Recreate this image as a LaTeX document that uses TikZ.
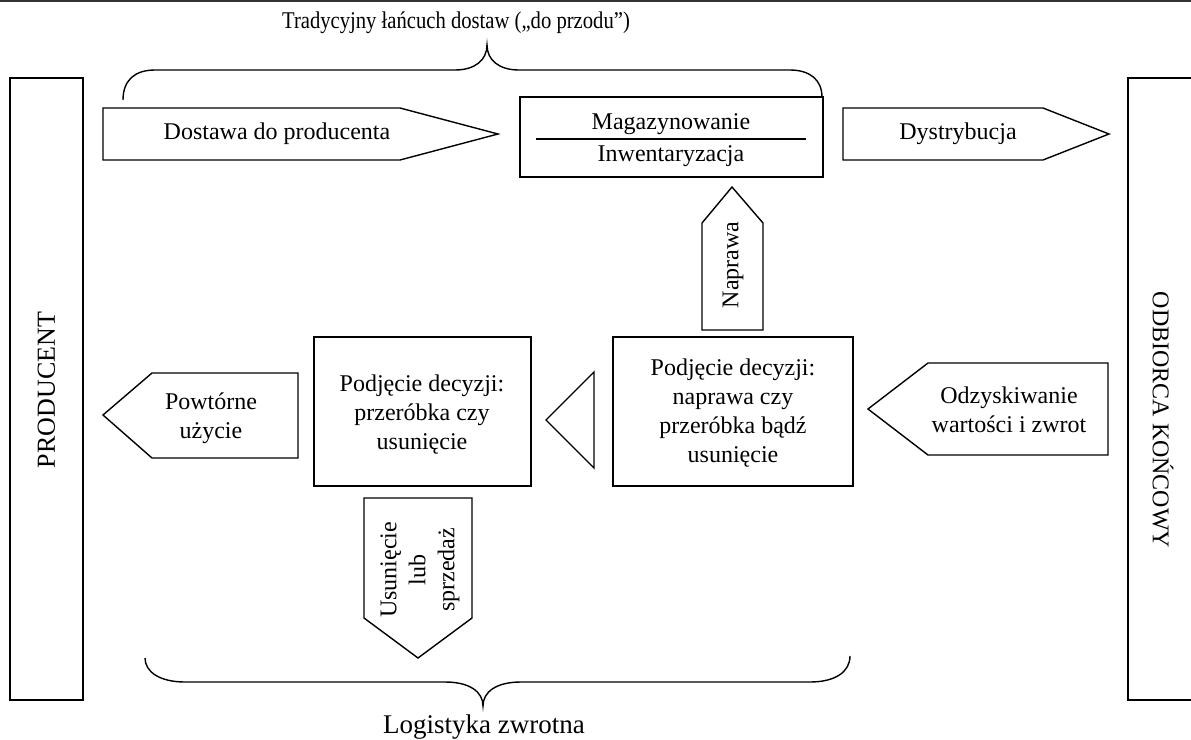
\documentclass[tikz,border=0pt]{standalone}
\usepackage{fontspec}
\setmainfont{Liberation Serif}
\begin{document}
\begin{tikzpicture}[x=0.5pt,y=-0.5pt,line width=0.7pt,
    font=\fontsize{12}{14.5}\selectfont,
    lbl/.style={align=center,inner sep=0pt}]
    \useasboundingbox (0,0) rectangle (1191,740);
    \draw[black!80,line width=1pt] (0,1) -- (1191,1);

    \node[lbl,transform shape,xscale=0.86] (title) at (456,23) {Tradycyjny łańcuch dostaw („do przodu”)};
    \draw (123,100) .. controls (123,80) and (135,70) .. (155,70) -- (455,70)
        .. controls (475,70) and (487,60) .. (487,45)
        .. controls (487,60) and (499,70) .. (519,70) -- (790,70)
        .. controls (810,70) and (822,80) .. (822,97);

    \draw (10,78) rectangle (83,700);
    \node[lbl,rotate=90,font=\fontsize{13}{15}\selectfont] (prod) at (46.5,390) {PRODUCENT};
    \draw (1191,78) -- (1128,78) -- (1128,700) -- (1191,700);
    \node[lbl,rotate=-90] (odb) at (1163,420) {ODBIORCA KOŃCOWY};

    \draw (103,108) -- (400,108) -- (498,134) -- (400,160) -- (103,160) -- cycle;
    \node[lbl] (dost) at (277,134) {Dostawa do producenta};

    \draw (520,97) rectangle (823,177);
    \node[lbl] (mag) at (671,124) {Magazynowanie};
    \node[lbl] (inw) at (671,156) {Inwentaryzacja};
    \draw (536,139) -- (806,139);

    \draw (843,108) -- (1043,108) -- (1109,134) -- (1043,160) -- (843,160) -- cycle;
    \node[lbl] (dyst) at (958,134) {Dystrybucja};

    \draw (702,330) -- (702,223) -- (732,187) -- (763,223) -- (763,330) -- cycle;
    \node[lbl,rotate=90] (napr) at (733,265) {Naprawa};

    \draw (613,337) rectangle (853,486);
    \node[lbl] (dec2) at (733,413) {Podjęcie decyzji:\\naprawa czy\\przeróbka bądź\\usunięcie};

    \draw (1108,363) -- (928,363) -- (868,409) -- (928,455) -- (1108,455) -- cycle;
    \node[lbl] (odz) at (1009,410) {Odzyskiwanie\\wartości i zwrot};

    \draw (594,372) -- (594,468) -- (546,420) -- cycle;

    \draw (314,337) rectangle (531,486);
    \node[lbl] (dec1) at (422,415) {Podjęcie decyzji:\\przeróbka czy\\usunięcie};

    \draw (298,373) -- (152,373) -- (103,415) -- (152,458) -- (298,458) -- cycle;
    \node[lbl] (powt) at (211,418) {Powtórne\\użycie};

    \draw (364,498) -- (472,498) -- (472,618) -- (418,658) -- (364,618) -- cycle;
    \node[lbl,rotate=90] (usun) at (420,570) {Usunięcie\\lub\\sprzedaż};

    \draw (145,658) .. controls (145,672) and (160,682) .. (185,682) -- (445,682)
        .. controls (470,682) and (483,692) .. (483,706)
        .. controls (483,692) and (496,682) .. (521,682) -- (810,682)
        .. controls (835,682) and (850,672) .. (850,656);
    \node[lbl,font=\fontsize{13.5}{15}\selectfont] (logi) at (484,727) {Logistyka zwrotna};
\end{tikzpicture}
\end{document}
